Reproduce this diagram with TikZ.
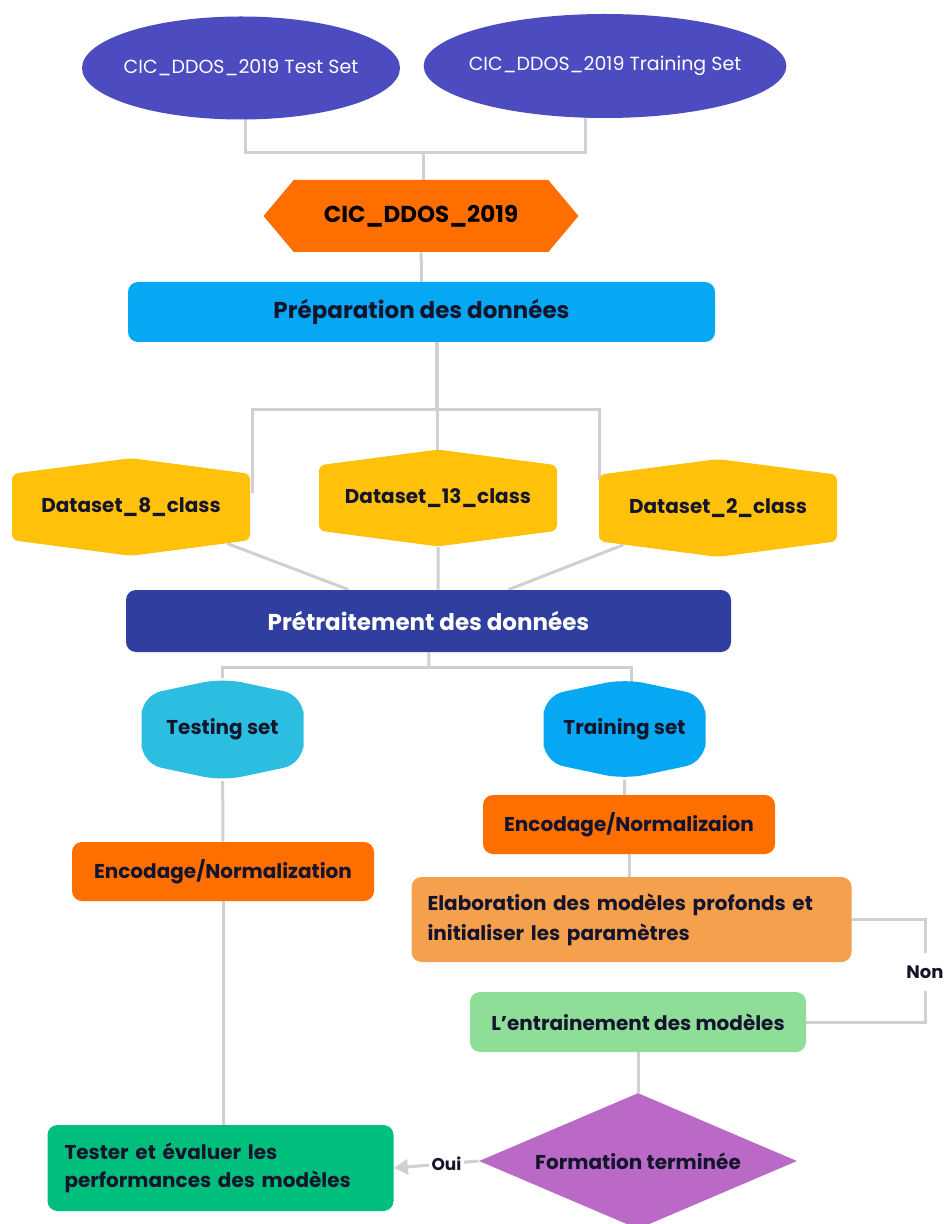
\documentclass[tikz,border=0pt]{standalone}
\usepackage{fontspec}
\setmainfont{Poppins}
\usetikzlibrary{shapes.geometric,shapes.symbols,arrows.meta,backgrounds}
\definecolor{setblue}{RGB}{76,75,191}
\definecolor{hexorange}{RGB}{255,111,0}
\definecolor{prepblue}{RGB}{6,168,243}
\definecolor{dsyellow}{RGB}{255,193,10}
\definecolor{pretblue}{RGB}{48,63,159}
\definecolor{testcyan}{RGB}{44,190,224}
\definecolor{elaborange}{RGB}{245,160,76}
\definecolor{trainmint}{RGB}{143,222,152}
\definecolor{decpurple}{RGB}{186,106,198}
\definecolor{evalgreen}{RGB}{0,190,123}
\definecolor{linkgrey}{RGB}{208,208,208}
\definecolor{inkdark}{RGB}{20,20,45}

\begin{document}
\begin{tikzpicture}[x=0.5pt, y=-0.5pt,
    every node/.style={text=inkdark, font=\bfseries\fontsize{10}{13}\selectfont},
    link/.style={draw=linkgrey, line width=1.5pt},
    setell/.style={ellipse, fill=setblue, inner ysep=0pt, inner xsep=-4pt, text=white, font=\fontsize{9.5}{11}\selectfont},
    stepbox/.style={rectangle, rounded corners=5pt, inner sep=0pt},
    dataset/.style={signal, signal to=north and south, signal pointer angle=165, rounded corners=3pt,
      fill=dsyellow, minimum width=119pt, minimum height=45pt, inner sep=0pt},
    splitset/.style={signal, signal to=north and south, signal pointer angle=156, rounded corners=10pt,
      minimum width=81pt, minimum height=46pt, inner sep=0pt},
    answer/.style={fill=white, font=\bfseries\fontsize{8.5}{10}\selectfont},
  ]
  \useasboundingbox (0,0) rectangle (946,1224);

  % sources
  \node[setell, minimum width=159pt, minimum height=51.5pt] (testSet) at (241,68) {CIC\_DDOS\_2019 Test Set};
  \node[setell, minimum width=181pt, minimum height=52pt] (trainSet) at (605,66) {CIC\_DDOS\_2019 Training Set};
  \node[signal, signal to=west and east, signal pointer angle=100, fill=hexorange, minimum width=157.5pt,
    minimum height=36pt, inner sep=0pt, text=black, font=\bfseries\fontsize{11.5}{14}\selectfont] (cic) at (421,216) {CIC\_DDOS\_2019};
  \node[stepbox, fill=prepblue, minimum width=293.5pt, minimum height=30pt,
    font=\bfseries\fontsize{11.5}{14}\selectfont] (prep) at (421.5,312) {Préparation des données};

  % datasets
  \node[dataset] (ds8) at (131,507) {Dataset\_8\_class};
  \node[dataset] (ds13) at (438,498) {Dataset\_13\_class};
  \node[dataset] (ds2) at (718,508) {Dataset\_2\_class};
  \node[stepbox, fill=pretblue, minimum width=302.5pt, minimum height=31pt, text=white,
    font=\bfseries\fontsize{11.5}{14}\selectfont] (pret) at (428.5,621) {Prétraitement des données};

  % split
  \node[splitset, fill=testcyan] (testing) at (222.5,729.5) {Testing set};
  \node[splitset, fill=prepblue] (training) at (624.5,729) {Training set};
  \node[stepbox, fill=hexorange, minimum width=151pt, minimum height=29.5pt] (encL) at (223,871.5) {Encodage/Normalization};
  \node[stepbox, fill=hexorange, minimum width=146pt, minimum height=29.5pt] (encR) at (629,824.5) {Encodage/Normalizaion};
  \node[stepbox, fill=elaborange, minimum height=42.5pt, text width=204pt, inner xsep=8pt, align=left,
    font=\bfseries\fontsize{10}{15}\selectfont] (elab) at (631.5,919.5) {Elaboration des modèles profonds et\\initialiser les paramètres};
  \node[stepbox, fill=trainmint, minimum width=168pt, minimum height=30pt] (train) at (638,1022) {L’entrainement des modèles};
  \node[diamond, aspect=2.34, fill=decpurple, minimum width=159pt, minimum height=68pt, inner sep=0pt] (decision) at (638,1161) {Formation terminée};
  \node[stepbox, fill=evalgreen, minimum height=43pt, text width=156pt, inner xsep=8.5pt, align=left,
    font=\bfseries\fontsize{10}{14}\selectfont] (tester) at (220.5,1168) {Tester et évaluer les\\performances des modèles};
  \node[answer, inner xsep=1pt, inner ysep=6pt, font=\bfseries\fontsize{9}{10}\selectfont] (non) at (925,972) {Non};

  \begin{scope}[on background layer]
    \coordinate (joinA) at (423,153);
    \draw[link] ([xshift=2pt]testSet.center) |- (joinA) -| ([xshift=-10pt]trainSet.center);
    \draw[link] (joinA) -- (joinA |- cic.center);
    \draw[link] (cic) -- (prep);
    \coordinate (joinB) at (437,410);
    \draw[link, line width=2pt] (prep.center -| joinB) -- (joinB);
    \draw[link] (joinB) -| ([shift={(1pt,7pt)}]ds8.east);
    \draw[link] (joinB) -| ([shift={(0.5pt,14pt)}]ds2.west);
    \draw[link] (joinB) -- (joinB |- ds13.center);
    \draw[link] (ds8) -- ([xshift=-40pt]pret.north);
    \draw[link] (ds13) -- (ds13 |- pret.north);
    \draw[link] (ds2) -- ([xshift=40pt]pret.north);
    \coordinate (joinC) at (429,667);
    \draw[link] (pret) -- (joinC);
    \draw[link] (testing) |- (joinC) -| ([xshift=3.5pt]training.center);
    \draw[link] (testing) -- (encL);
    \draw[link] (encL) -- (encL |- tester.center);
    \draw[link] (training) -- (training |- encR.center);
    \draw[link] (encR) -- (encR |- elab.center);
    \draw[link] (elab.east) -| (non) |- (train.east);
    \draw[link] (train) -- (decision);
    \draw[link, -{Triangle[length=7pt, width=7.5pt]}] (decision.west) -- (tester.east)
      node[answer, pos=0.38, inner sep=1.5pt] {Oui};
  \end{scope}
\end{tikzpicture}
\end{document}
